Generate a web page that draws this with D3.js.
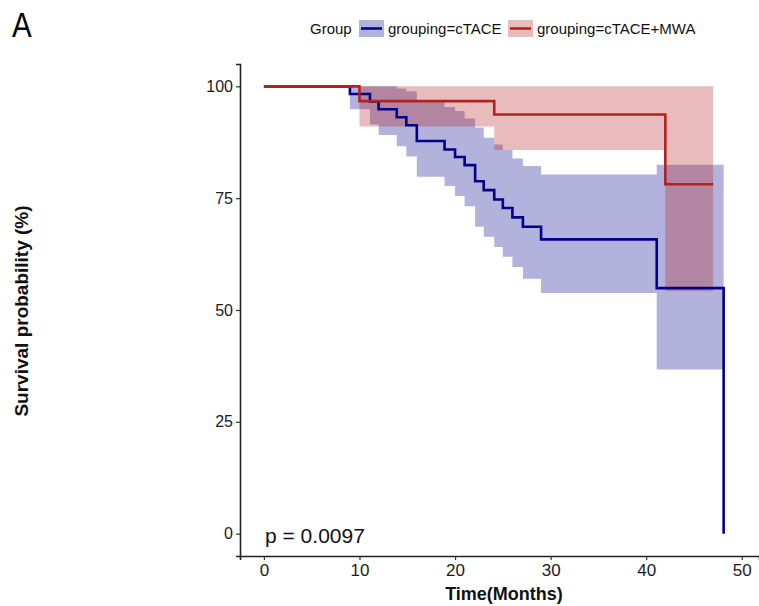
<!DOCTYPE html>
<html><head><meta charset="utf-8">
<script src="https://cdn.jsdelivr.net/npm/d3@7"></script>
<style>body{margin:0;background:#fff;} text{font-family:"Liberation Sans",Arial,sans-serif;}</style>
</head><body>
<svg id="c" width="759" height="606"></svg>
<script>
// cTACE group (Kaplan-Meier step points, survival %)
const blueTime  = [0, 9.0, 11.1, 12.0, 13.9, 14.9, 16.0, 18.9, 20.0, 21.0, 22.1, 23.0, 24.1, 25.0, 26.0, 27.1, 29.0, 41.1, 48.1];
const blueSurv  = [100, 98.3, 96.6, 94.9, 93.1, 91.3, 87.8, 85.9, 84.2, 82.4, 78.8, 76.8, 74.7, 72.8, 70.7, 68.6, 65.8, 54.9, 0];
const blueLower = [100, 94.9, 91.5, 89.1, 86.6, 84.3, 79.8, 77.7, 75.5, 73.2, 68.6, 66.4, 64.1, 61.9, 59.6, 57.0, 53.8, 36.7, null];
const blueUpper = [100, 100, 100, 100, 99.5, 98.9, 96.7, 95.4, 94.5, 92.8, 90.8, 88.5, 87.0, 85.8, 83.9, 82.2, 80.3, 82.5, null];
// cTACE+MWA group
const redTime  = [0, 10.0, 24.1, 42.0, 47.0];
const redSurv  = [100, 96.7, 93.7, 78.1, 78.1];
const redLower = [100, 91.0, 85.8, 54.2, 54.2];
const redUpper = [100, 100, 100, 100, 100];

const xTicks = [0, 10, 20, 30, 40, 50];
const yTicks = [0, 25, 50, 75, 100];
const groups = ["grouping=cTACE", "grouping=cTACE+MWA"];
const colors = ["#00008B", "#B22222"];
const pText = "p = 0.0097";

const svg = d3.select("#c");
const L = 240, R = 759, T = 64, B = 556;
const x = d3.scaleLinear().domain([-2.5, 51.8]).range([L, R]);
const y = d3.scaleLinear().domain([-5, 105]).range([B, T]);

function series(t, s, lo, up) {
  return t.map((d, i) => ({t: d, s: s[i],
    lo: lo[i] == null ? lo[i - 1] : lo[i],
    up: up[i] == null ? up[i - 1] : up[i]}));
}
const blue = series(blueTime, blueSurv, blueLower, blueUpper);
const red = series(redTime, redSurv, redLower, redUpper);

const area = d3.area().curve(d3.curveStepAfter)
  .x(d => x(d.t)).y0(d => y(d.lo)).y1(d => y(d.up));
const line = d3.line().curve(d3.curveStepAfter).x(d => x(d.t)).y(d => y(d.s));

[blue, red].forEach((dat, i) => {
  svg.append("path").attr("d", area(dat)).attr("fill", colors[i]).attr("fill-opacity", 0.3);
});
[blue, red].forEach((dat, i) => {
  svg.append("path").attr("d", line(dat)).attr("fill", "none")
    .attr("stroke", colors[i]).attr("stroke-width", 2.6);
});

// axes
const ax = svg.append("g").attr("transform", `translate(0,${B})`)
  .call(d3.axisBottom(x).tickValues(xTicks).tickSize(4).tickPadding(4));
const ay = svg.append("g").attr("transform", `translate(${L},0)`)
  .call(d3.axisLeft(y).tickValues(yTicks).tickSize(4).tickPadding(3));
[ax, ay].forEach(g => {
  g.select(".domain").attr("stroke", "#222").attr("stroke-width", 1.6);
  g.selectAll(".tick line").attr("stroke", "#333").attr("stroke-width", 1.2);
  g.selectAll(".tick text").attr("fill", "#1a1a1a").attr("font-family", "Liberation Sans, Arial, sans-serif");
});
ax.selectAll(".tick text").attr("font-size", 17);
ay.selectAll(".tick text").attr("font-size", 16);

// titles
svg.append("text").attr("x", 504).attr("y", 600).attr("text-anchor", "middle")
  .attr("font-size", 18).attr("font-weight", "bold").attr("fill", "#111").text("Time(Months)");
svg.append("text").attr("transform", "translate(28,311) rotate(-90)").attr("text-anchor", "middle")
  .attr("font-size", 19).attr("font-weight", "bold").attr("fill", "#111").text("Survival probability (%)");
svg.append("text").attr("x", 265).attr("y", 543).attr("font-size", 21).attr("fill", "#111").text(pText);
svg.append("text").attr("x", 12).attr("y", 37).attr("font-size", 36).attr("fill", "#000")
  .attr("transform", "translate(12,37) scale(0.82,1) translate(-12,-37)").text("A");

// legend
svg.append("text").attr("x", 310).attr("y", 34).attr("font-size", 15).attr("fill", "#111").text("Group");
const keyX = [359, 508];
groups.forEach((g, i) => {
  svg.append("rect").attr("x", keyX[i]).attr("y", 20).attr("width", 25).attr("height", 17)
    .attr("fill", colors[i]).attr("fill-opacity", 0.3);
  svg.append("line").attr("x1", keyX[i] + 2).attr("x2", keyX[i] + 23).attr("y1", 28.5).attr("y2", 28.5)
    .attr("stroke", colors[i]).attr("stroke-width", 2.6);
  svg.append("text").attr("x", keyX[i] + 29).attr("y", 34).attr("font-size", 15).attr("fill", "#111").text(g);
});
</script>
</body></html>
